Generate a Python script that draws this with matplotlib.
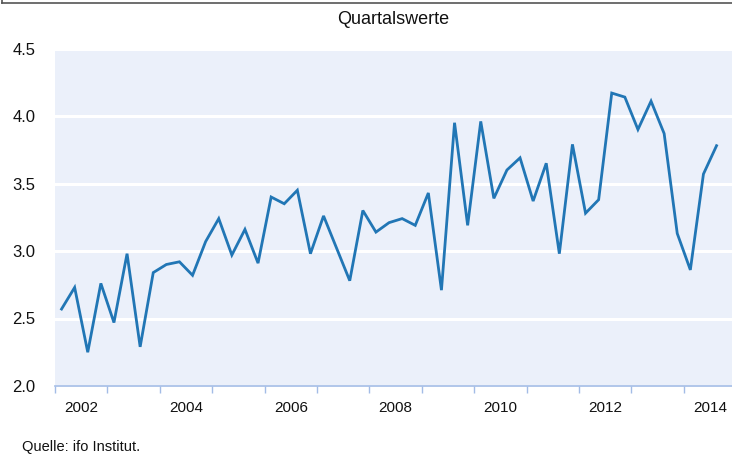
import matplotlib
matplotlib.use("Agg")
import matplotlib.pyplot as plt
from matplotlib.lines import Line2D
import numpy as np

# quarterly values, 2002 Q1 .. 2014 Q3
start_year = 2002
values = [2.57, 2.73, 2.25, 2.76,
          2.47, 2.98, 2.29, 2.84,
          2.90, 2.92, 2.82, 3.07,
          3.24, 2.97, 3.16, 2.91,
          3.40, 3.35, 3.45, 2.98,
          3.26, 3.02, 2.78, 3.30,
          3.14, 3.21, 3.24, 3.19,
          3.43, 2.71, 3.95, 3.19,
          3.96, 3.39, 3.60, 3.69,
          3.37, 3.65, 2.98, 3.79,
          3.28, 3.38, 4.17, 4.14,
          3.90, 4.11, 3.87, 3.13,
          2.86, 3.57, 3.78]
year_labels = ["2002", "2004", "2006", "2008", "2010", "2012", "2014"]
y_ticks = [2.0, 2.5, 3.0, 3.5, 4.0, 4.5]

plt.rcParams['font.family'] = ['Liberation Sans', 'DejaVu Sans']

x = start_year + (np.arange(len(values)) + 0.5) / 4.0

fig = plt.figure(figsize=(7.32, 4.54), dpi=100)
ax = fig.add_axes([55/732, 68/454, 677/732, 337.5/454])
ax.set_facecolor("#ebf0fa")

ax.plot(x, values, color="#2176b5", lw=2.0, solid_joinstyle="miter", zorder=3)

ax.set_xlim(2002, 2014.92)
ax.set_ylim(2.0, 4.5)

# y axis
ax.set_yticks(y_ticks)
ax.set_yticklabels([f"{v:.1f}" for v in y_ticks])
ax.tick_params(axis="y", length=0, pad=14, labelsize=12, labelcolor="#111111")
ax.yaxis.grid(True, color="white", lw=2.2, zorder=1)
ax.set_axisbelow(True)

# x axis: ticks at year boundaries, labels in the middle of the year
ax.set_xticks(np.arange(2002, 2015))
ax.set_xticklabels([])
ax.set_xticks([int(s) + 0.5 for s in year_labels], minor=True)
ax.set_xticklabels(year_labels, minor=True)
ax.tick_params(axis="x", which="major", length=5, width=1, color="#a3bce6", direction="out")
ax.tick_params(axis="x", which="minor", length=0, pad=11, labelsize=11, labelcolor="#111111")

for s in ["top", "right", "left"]:
    ax.spines[s].set_visible(False)
ax.spines["bottom"].set_color("#a3bce6")
ax.spines["bottom"].set_linewidth(1.2)

fig.text(393/732, 1 - 19/454, "Quartalswerte", ha="center", va="center", fontsize=13, color="#111111")
fig.text(22/732, 1 - 447/454, "Quelle: ifo Institut.", ha="left", va="center", fontsize=10.5, color="#111111")

# frame remnant at top
fig.add_artist(Line2D([2/732, 1], [1 - 2.5/454, 1 - 2.5/454], color="#555555", lw=1.2))
fig.add_artist(Line2D([2/732, 2/732], [1, 1 - 2.5/454], color="#555555", lw=1.2))

fig.savefig("out.png", dpi=100)
